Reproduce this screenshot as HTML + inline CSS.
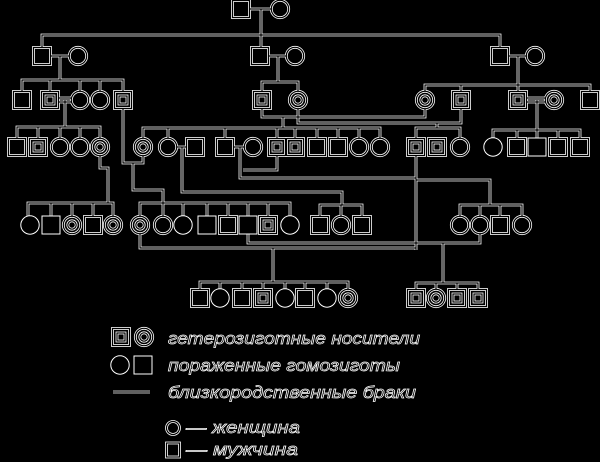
<!DOCTYPE html>
<html><head><meta charset="utf-8"><style>
html,body{margin:0;padding:0;background:#000;width:600px;height:462px;overflow:hidden}
svg{display:block}
text{font-family:"Liberation Sans",sans-serif;font-style:italic;fill:#000;stroke:#fff;stroke-width:0.7}
</style></head><body>
<svg width="600" height="462" viewBox="0 0 600 462" xmlns="http://www.w3.org/2000/svg">
<defs>
<rect id="s" x="-8.5" y="-8.5" width="17" height="17"/>
<circle id="c" r="8.7"/>
<g id="sc"><rect x="-8.5" y="-8.5" width="17" height="17"/><rect x="-4" y="-4" width="8" height="8"/></g>
<g id="cc"><circle r="8.7"/><circle r="4.2"/></g>
<g id="all">
<path fill="none" d="
M249.5,9H271.3 M261,9V47.5 M42,47.5V35H500V47.5
M50.5,56H69.3 M60,56V80 M22,91.5V80H123V91.5 M50,80V91.5 M80,80V91.3 M100,80V91.3
M268.5,56H286.3 M278,56V82 M262,91.5V82H298V91.3
M508.5,56H526.3 M518,56V85 M425,91.3V85H590V91.5 M461,85V91.5 M518,85V91.5
M58.5,98H71.5 M58.5,102H71.5 M65,100V127 M17,138.5V127H100V138.3 M38,127V138.5 M60,127V138.3 M80,127V138.3
M262,108.5V117H425V108.7 M298,108.7V123H461V108.5 M283,117V128
M143,138.3V128H380V138.3 M168,128V138.3 M225,128V138.5 M277,128V138.5 M295,128V138.5 M317,128V138.5 M338,128V138.5 M359,128V138.3
M526.5,98H545.5 M526.5,102H545.5 M537,100V130 M493,138.3V130H580V138.5 M517,130V138.5 M537,130V138.5 M558,130V138.5
M437,123V128 M416,138.5V128H460V138.3
M176.7,147H186.5 M233.5,147H244.3
M100,155.7V168H108V203 M123,108.5V163H143V155.7 M133,163V190H163V203
M182,147V192H342V205 M240,147V178H416 M277,155.5V170H243
M416,155.5V250 M416,180H490V205
M28,216.3V203H113V216.3 M51,203V216.5 M72,203V216.3 M93,203V216.5
M140,216.3V203H290V216.3 M163,203V216.3 M183,203V216.3 M207,203V216.5 M228,203V216.5 M248,203V216.5 M268,203V216.5
M320,216.5V205H362V216.5 M341,205V216.3
M460,216.3V205H522V216.3 M480,205V216.3 M500,205V216.5
M140,233.7V248H416 M248,233.5V243H416 M480,233.7V243H416
M273,248V282 M200,289.5V282H348V289.3 M220,282V289.3 M242,282V289.5 M263,282V289.5 M285,282V289.3 M305,282V289.5 M327,282V289.3
M443,243V283 M416,289.5V283H478V289.5 M436,283V289.3 M457,283V289.5
M113,392H150
"/>
<use href="#s" x="241" y="9"/><use href="#c" x="280" y="9"/>
<use href="#s" x="42" y="56"/><use href="#c" x="78" y="56"/>
<use href="#s" x="260" y="56"/><use href="#c" x="295" y="56"/>
<use href="#s" x="500" y="56"/><use href="#c" x="535" y="56"/>
<use href="#s" x="22" y="100"/><use href="#sc" x="50" y="100"/><use href="#c" x="80" y="100"/><use href="#c" x="100" y="100"/><use href="#sc" x="123" y="100"/>
<use href="#sc" x="262" y="100"/><use href="#cc" x="298" y="100"/>
<use href="#cc" x="425" y="100"/><use href="#sc" x="461" y="100"/><use href="#sc" x="518" y="100"/><use href="#cc" x="554" y="100"/><use href="#s" x="590" y="100"/>
<use href="#s" x="17" y="147"/><use href="#sc" x="38" y="147"/><use href="#c" x="60" y="147"/><use href="#c" x="80" y="147"/><use href="#cc" x="100" y="147"/>
<use href="#cc" x="143" y="147"/><use href="#c" x="168" y="147"/><use href="#s" x="195" y="147"/><use href="#s" x="225" y="147"/><use href="#c" x="253" y="147"/><use href="#sc" x="277" y="147"/><use href="#sc" x="295" y="147"/><use href="#s" x="317" y="147"/><use href="#s" x="338" y="147"/><use href="#c" x="359" y="147"/><use href="#c" x="380" y="147"/>
<use href="#sc" x="416" y="147"/><use href="#sc" x="437" y="147"/><use href="#c" x="460" y="147"/>
<use href="#s" x="517" y="147"/><use href="#s" x="558" y="147"/><use href="#s" x="580" y="147"/>
<use href="#cc" x="72" y="225"/><use href="#s" x="93" y="225"/><use href="#cc" x="113" y="225"/>
<use href="#cc" x="140" y="225"/><use href="#c" x="163" y="225"/><use href="#s" x="228" y="225"/><use href="#sc" x="268" y="225"/>
<use href="#s" x="320" y="225"/><use href="#c" x="341" y="225"/><use href="#s" x="362" y="225"/>
<use href="#c" x="460" y="225"/><use href="#c" x="480" y="225"/><use href="#s" x="500" y="225"/><use href="#c" x="522" y="225"/>
<use href="#s" x="200" y="298"/><use href="#s" x="242" y="298"/><use href="#sc" x="263" y="298"/><use href="#s" x="305" y="298"/><use href="#cc" x="348" y="298"/>
<use href="#sc" x="416" y="298"/><use href="#cc" x="436" y="298"/><use href="#sc" x="457" y="298"/><use href="#sc" x="478" y="298"/>
<use href="#sc" x="121" y="337"/><use href="#cc" x="144" y="337"/>
<circle cx="173" cy="428" r="6.5"/><rect x="166.5" y="443" width="13" height="14"/>
</g>
</defs>
<use href="#all" stroke="#fff" stroke-width="2.8" fill="#000"/>
<use href="#all" stroke="#000" stroke-width="1.2" fill="none"/>
<g fill="#000" stroke="#fff" stroke-width="1">
<circle cx="493" cy="147" r="9.2"/><rect x="528" y="138" width="18" height="18"/>
<circle cx="30" cy="225" r="9.2"/><rect x="42" y="216" width="18" height="18"/>
<circle cx="183" cy="225" r="9.2"/><rect x="198" y="216" width="18" height="18"/><rect x="239" y="216" width="18" height="18"/><circle cx="290" cy="225" r="9.2"/>
<circle cx="220" cy="298" r="9.2"/><circle cx="285" cy="298" r="9.2"/><circle cx="327" cy="298" r="9.2"/>
<circle cx="120" cy="365" r="9.2"/><rect x="134" y="356" width="18" height="18"/>
</g>
<text x="168" y="344" font-size="17" textLength="252" lengthAdjust="spacingAndGlyphs">гетерозиготные носители</text>
<text x="168" y="371" font-size="17" textLength="232" lengthAdjust="spacingAndGlyphs">пораженные гомозиготы</text>
<text x="168" y="398" font-size="17" textLength="248" lengthAdjust="spacingAndGlyphs">близкородственные браки</text>
<text x="186" y="433" font-size="17" textLength="114" lengthAdjust="spacingAndGlyphs">— женщина</text>
<text x="186" y="455" font-size="17" textLength="112" lengthAdjust="spacingAndGlyphs">— мужчина</text>
</svg>
</body></html>
